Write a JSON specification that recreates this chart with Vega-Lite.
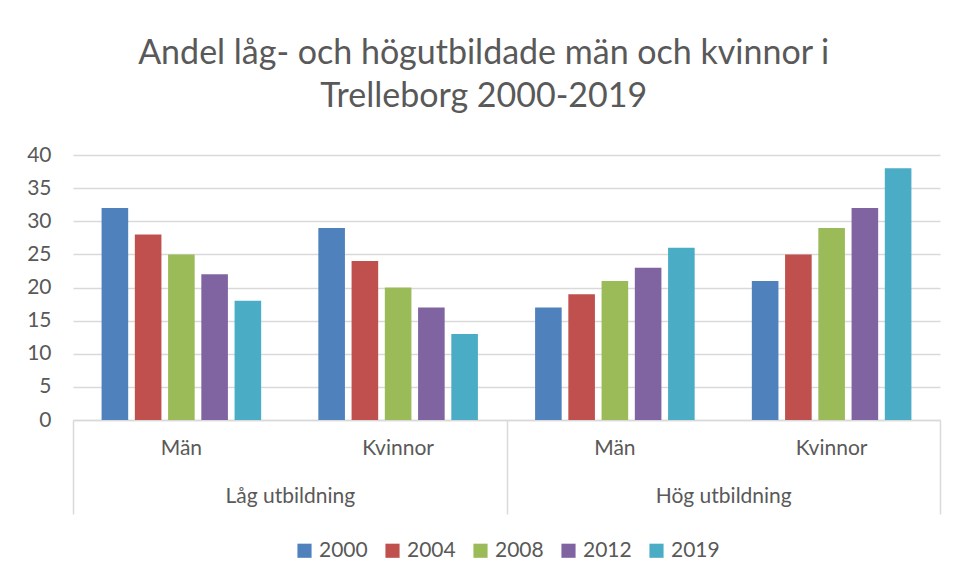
{
  "$schema": "https://vega.github.io/schema/vega-lite/v6.json",
  "width": 867,
  "height": 265,
  "autosize": {"type": "none"},
  "padding": {"left": 73, "top": 155, "right": 18, "bottom": 161},
  "background": "white",
  "title": {
    "text": ["Andel låg- och högutbildade män och kvinnor i", "Trelleborg 2000-2019"],
    "anchor": "middle",
    "frame": "bounds",
    "font": "Lato",
    "fontSize": 34,
    "fontWeight": "normal",
    "color": "#595959",
    "lineHeight": 43,
    "offset": 30
  },
  "data": {
    "values": [
      {"level": "Låg utbildning", "group": "Låg utbildning|Män", "year": "2000", "value": 32},
      {"level": "Låg utbildning", "group": "Låg utbildning|Män", "year": "2004", "value": 28},
      {"level": "Låg utbildning", "group": "Låg utbildning|Män", "year": "2008", "value": 25},
      {"level": "Låg utbildning", "group": "Låg utbildning|Män", "year": "2012", "value": 22},
      {"level": "Låg utbildning", "group": "Låg utbildning|Män", "year": "2019", "value": 18},
      {"level": "Låg utbildning", "group": "Låg utbildning|Kvinnor", "year": "2000", "value": 29},
      {"level": "Låg utbildning", "group": "Låg utbildning|Kvinnor", "year": "2004", "value": 24},
      {"level": "Låg utbildning", "group": "Låg utbildning|Kvinnor", "year": "2008", "value": 20},
      {"level": "Låg utbildning", "group": "Låg utbildning|Kvinnor", "year": "2012", "value": 17},
      {"level": "Låg utbildning", "group": "Låg utbildning|Kvinnor", "year": "2019", "value": 13},
      {"level": "Hög utbildning", "group": "Hög utbildning|Män", "year": "2000", "value": 17},
      {"level": "Hög utbildning", "group": "Hög utbildning|Män", "year": "2004", "value": 19},
      {"level": "Hög utbildning", "group": "Hög utbildning|Män", "year": "2008", "value": 21},
      {"level": "Hög utbildning", "group": "Hög utbildning|Män", "year": "2012", "value": 23},
      {"level": "Hög utbildning", "group": "Hög utbildning|Män", "year": "2019", "value": 26},
      {"level": "Hög utbildning", "group": "Hög utbildning|Kvinnor", "year": "2000", "value": 21},
      {"level": "Hög utbildning", "group": "Hög utbildning|Kvinnor", "year": "2004", "value": 25},
      {"level": "Hög utbildning", "group": "Hög utbildning|Kvinnor", "year": "2008", "value": 29},
      {"level": "Hög utbildning", "group": "Hög utbildning|Kvinnor", "year": "2012", "value": 32},
      {"level": "Hög utbildning", "group": "Hög utbildning|Kvinnor", "year": "2019", "value": 38}
    ]
  },
  "layer": [
    {
      "mark": {"type": "bar"},
      "encoding": {
        "x": {
          "field": "group",
          "type": "nominal",
          "sort": ["Låg utbildning|Män", "Låg utbildning|Kvinnor", "Hög utbildning|Män", "Hög utbildning|Kvinnor"],
          "scale": {"paddingInner": 0, "paddingOuter": 0},
          "axis": {
            "orient": "bottom",
            "title": null,
            "labelExpr": "split(datum.value, '|')[1]",
            "labelAngle": 0,
            "ticks": false,
            "domainColor": "#d9d9d9",
            "domainWidth": 1.5,
            "labelPadding": 17,
            "labelFont": "Lato",
            "labelFontSize": 21,
            "labelColor": "#595959"
          }
        },
        "xOffset": {
          "field": "year",
          "type": "nominal",
          "scale": {"paddingInner": 0.2, "paddingOuter": 0.86}
        },
        "y": {
          "field": "value",
          "type": "quantitative",
          "scale": {"domain": [0, 40]},
          "axis": {
            "title": null,
            "values": [0, 5, 10, 15, 20, 25, 30, 35, 40],
            "domain": false,
            "ticks": false,
            "grid": true,
            "gridColor": "#d9d9d9",
            "gridWidth": 1.5,
            "labelPadding": 22,
            "labelFont": "Lato",
            "labelFontSize": 21,
            "labelColor": "#595959"
          }
        },
        "color": {
          "field": "year",
          "type": "nominal",
          "scale": {
            "domain": ["2000", "2004", "2008", "2012", "2019"],
            "range": ["#4F81BD", "#C0504D", "#9BBB59", "#8064A2", "#4BACC6"]
          },
          "legend": {
            "orient": "bottom",
            "direction": "horizontal",
            "title": null,
            "symbolType": "square",
            "symbolSize": 200,
            "symbolStrokeWidth": 0,
            "labelFont": "Lato",
            "labelFontSize": 21,
            "labelColor": "#595959",
            "columnPadding": 14,
            "labelOffset": 4,
            "offset": 25
          }
        }
      }
    },
    {
      "mark": {"type": "rule", "opacity": 0},
      "encoding": {
        "x": {
          "field": "level",
          "type": "nominal",
          "sort": ["Låg utbildning", "Hög utbildning"],
          "scale": {"paddingInner": 0, "paddingOuter": 0},
          "axis": {
            "orient": "bottom",
            "title": null,
            "domain": false,
            "ticks": true,
            "tickBand": "extent",
            "tickSize": 94,
            "tickColor": "#d9d9d9",
            "tickWidth": 1.5,
            "labelPadding": -29,
            "labelAngle": 0,
            "labelFont": "Lato",
            "labelFontSize": 21,
            "labelColor": "#595959"
          }
        }
      }
    }
  ],
  "resolve": {"scale": {"x": "independent"}, "axis": {"x": "independent"}},
  "config": {
    "view": {"stroke": null},
    "legend": {"layout": {"bottom": {"anchor": "middle"}}}
  }
}
